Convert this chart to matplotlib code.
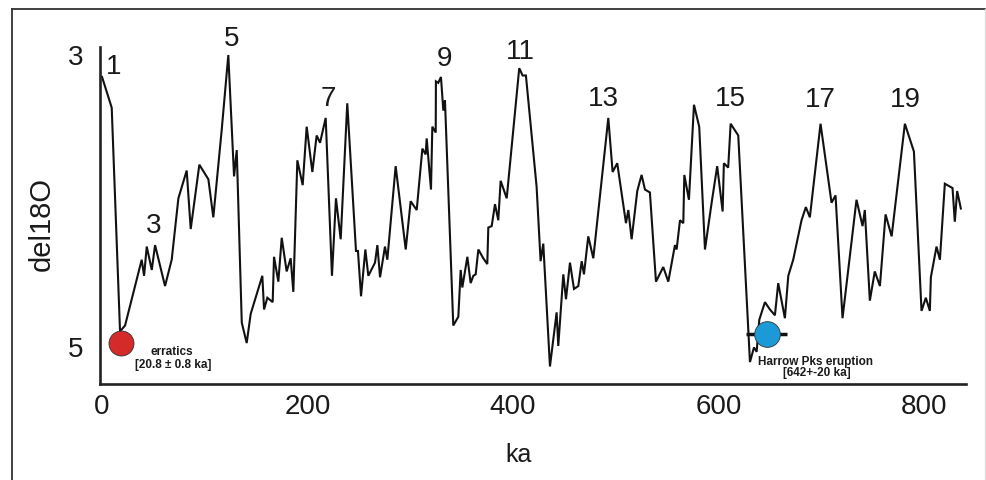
import matplotlib
matplotlib.use("Agg")
import matplotlib.pyplot as plt
from matplotlib.lines import Line2D

plt.rcParams['font.family'] = ['Liberation Sans', 'DejaVu Sans']

# ---- data ----
age_ka = [0, 9.4, 17.5, 22.4, 38.6, 40.9, 43.5, 48.4, 51.6, 61.3, 67.8, 74.3, 82.4, 86.3,
          94.7, 103.5, 108.3, 116.5, 122.9, 128.5, 131.1, 136.0, 140.8, 144.7, 156.0, 157.7,
          160.9, 166.1, 167.4, 171.6, 174.9, 179.7, 183.6, 186.2, 190.1, 195.3, 199.2, 204.7,
          208.9, 212.2, 217.7, 223.8, 227.7, 232.3, 238.7, 247.2, 249.1, 252.1, 256.3, 259.2,
          265.7, 268.0, 270.6, 275.4, 277.7, 285.8, 295.6, 300.4, 306.3, 311.8, 315.0, 316.0,
          320.2, 321.5, 324.8, 325.0, 327.3, 329.9, 332.2, 333.8, 341.9, 346.8, 349.1, 350.7,
          355.6, 358.8, 361.4, 363.7, 366.3, 371.1, 375.0, 376.0, 379.3, 382.5, 385.7, 388.0,
          393.9, 406.1, 409.4, 412.6, 423.0, 426.9, 429.5, 436.0, 442.5, 444.1, 449.0, 451.6,
          455.5, 459.4, 463.6, 466.9, 469.1, 473.3, 478.2, 492.8, 497.0, 501.5, 510.0, 512.3,
          515.5, 521.0, 525.2, 528.5, 533.3, 539.2, 546.3, 551.2, 557.7, 559.3, 562.6, 565.8,
          566.8, 571.3, 576.2, 581.3, 586.9, 593.4, 598.8, 604.1, 605.3, 609.5, 611.9, 619.3,
          630.7, 634.6, 637.2, 639.8, 645.3, 650.1, 655.0, 658.2, 664.7, 668.0, 672.8, 680.9,
          685.1, 689.0, 699.4, 710.1, 714.0, 720.8, 734.4, 740.3, 742.5, 747.4, 752.2, 757.2,
          762.7, 768.6, 781.5, 790.3, 797.7, 801.9, 805.8, 806.8, 812.3, 815.6, 820.4, 827.9,
          830.1, 832.4, 836.0]
del18o = [3.15, 3.36, 4.89, 4.85, 4.40, 4.51, 4.31, 4.47, 4.30, 4.58, 4.40, 3.98, 3.79, 4.19,
          3.75, 3.85, 4.11, 3.51, 3.00, 3.83, 3.65, 4.83, 4.97, 4.77, 4.51, 4.74,
          4.66, 4.69, 4.38, 4.55, 4.25, 4.48, 4.39, 4.62, 3.72, 3.89, 3.49, 3.80,
          3.55, 3.60, 3.43, 4.51, 3.98, 4.26, 3.33, 4.34, 4.34, 4.65, 4.33, 4.51,
          4.42, 4.30, 4.52, 4.31, 4.40, 3.76, 4.33, 4.00, 4.06, 3.64, 3.68, 3.57,
          3.92, 3.49, 3.53, 3.18, 3.19, 3.15, 3.38, 3.31, 4.85, 4.79, 4.47, 4.59,
          4.38, 4.56, 4.51, 4.50, 4.33, 4.39, 4.43, 4.18, 4.17, 4.02, 4.13, 3.86,
          3.98, 3.09, 3.14, 3.14, 3.90, 4.41, 4.29, 5.13, 4.76, 4.99, 4.50, 4.67,
          4.42, 4.60, 4.58, 4.41, 4.50, 4.24, 4.39, 3.43, 3.80, 3.74, 4.15, 4.06,
          4.26, 3.93, 3.82, 3.92, 3.94, 4.55, 4.45, 4.55, 4.30, 4.33, 4.13, 4.15,
          3.82, 3.99, 3.34, 3.49, 4.33, 4.01, 3.76, 4.07, 3.74, 3.77, 3.47, 3.55,
          5.10, 5.00, 5.03, 4.81, 4.69, 4.74, 4.78, 4.56, 4.80, 4.51, 4.40, 4.13,
          4.04, 4.11, 3.47, 4.01, 3.96, 4.80, 3.99, 4.17, 4.06, 4.68, 4.48, 4.58,
          4.09, 4.24, 3.47, 3.66, 4.75, 4.66, 4.75, 4.52, 4.31, 4.40, 3.88, 3.91,
          4.14, 3.93, 4.05]

stage_labels = ["1", "3", "5", "7", "9", "11", "13", "15", "17", "19"]
stage_x = [10.9, 49.9, 126.2, 220.2, 333.8, 406.8, 487.9, 611.2, 698.8, 781.5]
stage_y = [3.08, 4.17, 2.89, 3.30, 3.03, 2.98, 3.30, 3.30, 3.31, 3.31]

xtick_vals = [0, 200, 400, 600, 800]
ytick_vals = [3, 5]

erratics_age = 18.5
erratics_val = 4.97
harrow_age = 647
harrow_err = 20
harrow_val = 4.91

TXT = '#1a1a1a'

fig = plt.figure(figsize=(9.87, 4.8), dpi=100)
ax = fig.add_axes([100 / 987, 96 / 480, 866 / 987, 337 / 480])

ax.plot(age_ka, del18o, color='#111111', lw=1.5, zorder=2, solid_joinstyle='miter')

ax.errorbar([harrow_age], [harrow_val], xerr=[harrow_err], fmt='none',
            ecolor='#111111', elinewidth=2.5, capsize=0, zorder=3)
ax.plot([harrow_age], [harrow_val], 'o', ms=18.5, color='#1b9ad7',
        mec='#333333', mew=0.6, zorder=4)
ax.plot([erratics_age], [erratics_val], 'o', ms=18, color='#d42a2a',
        mec='#333333', mew=0.6, zorder=4)

for lab, sx, sy in zip(stage_labels, stage_x, stage_y):
    ax.text(sx, sy, lab, fontsize=20, color=TXT, ha='center', va='center', zorder=5)

ax.text(68.1, 5.03, "erratics", fontsize=8.5, fontweight='bold', color=TXT,
        ha='center', va='center')
ax.text(69.1, 5.12, "[20.8 \u00b1 0.8 ka]", fontsize=8.5, fontweight='bold', color=TXT,
        ha='center', va='center')
ax.text(694.9, 5.10, "Harrow Pks eruption", fontsize=8.5, fontweight='bold', color=TXT,
        ha='center', va='center')
ax.text(695.6, 5.175, "[642+-20 ka]", fontsize=8.5, fontweight='bold', color=TXT,
        ha='center', va='center')

ax.set_xlim(-2, 841)
ax.set_ylim(5.25, 2.945)

ax.set_xticks(xtick_vals)
ax.set_xticklabels([str(v) for v in xtick_vals])
ax.set_yticks(ytick_vals)
ax.set_yticklabels([str(v) for v in ytick_vals])
ax.tick_params(axis='both', length=0, labelsize=20, labelcolor=TXT)
ax.tick_params(axis='x', pad=7)
ax.tick_params(axis='y', pad=12)

for s in ['top', 'right']:
    ax.spines[s].set_visible(False)
for s in ['left', 'bottom']:
    ax.spines[s].set_linewidth(1.9)
    ax.spines[s].set_color('#222222')

ax.set_xlabel("ka", fontsize=18, color=TXT, va='center')
ax.xaxis.set_label_coords(0.483, -0.211)
ax.set_ylabel("del18O", fontsize=21, color=TXT, va='center')
ax.yaxis.set_label_coords(-0.067, 0.475)

# outer frame
W, H = 987, 480
fig.add_artist(Line2D([12 / W, 1.0], [1 - 9 / H, 1 - 9 / H], transform=fig.transFigure,
                      color='#333333', lw=1.3))
fig.add_artist(Line2D([12 / W, 12 / W], [0, 1 - 9 / H], transform=fig.transFigure,
                      color='#333333', lw=1.3))
fig.add_artist(Line2D([985.5 / W, 985.5 / W], [0, 1 - 9 / H], transform=fig.transFigure,
                      color='#dddddd', lw=1.0))

fig.savefig("out.png", dpi=100)
